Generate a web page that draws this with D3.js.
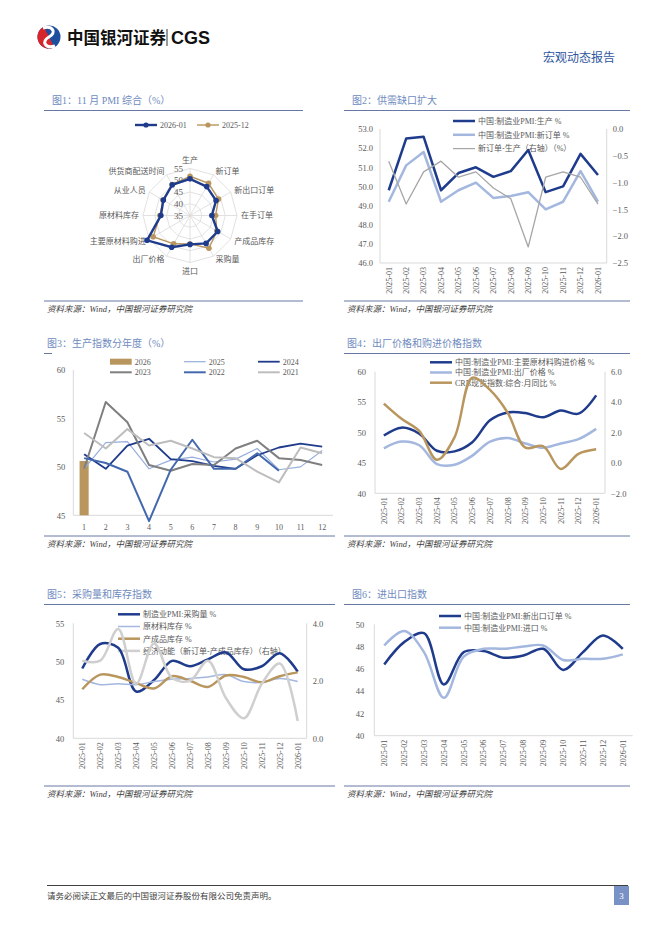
<!DOCTYPE html>
<html>
<head>
<meta charset="utf-8">
<script src="https://cdn.jsdelivr.net/npm/d3@7"></script>
<style>
  body { margin: 0; background: #fff; }
  svg { display: block; }
  text { font-family: "Liberation Serif", "Noto Sans CJK SC", serif; }
</style>
</head>
<body>
<svg id="page" width="662" height="936"></svg>
<script>
// ---- data ----
const months = ["2025-01","2025-02","2025-03","2025-04","2025-05","2025-06","2025-07","2025-08","2025-09","2025-10","2025-11","2025-12","2026-01"];

// 图1 雷达
const radarCats = ["生产","新订单","新出口订单","在手订单","产成品库存","采购量","进口","出厂价格","主要原材料购进","原材料库存","从业人员","供货商配送时间"];
const radarJan = [50.6, 49.2, 47.8, 44.3, 48.6, 48.7, 47.3, 50.6, 56.1, 47.4, 48.1, 50.1];
const radarDec = [51.7, 50.8, 49.0, 45.9, 48.2, 51.1, 47.1, 48.9, 53.1, 47.8, 48.2, 50.2];
const radarTicks = [35, 40, 45, 50, 55];

// 图2
const prodIdx   = [49.8, 52.5, 52.6, 49.8, 50.7, 51.0, 50.5, 50.8, 51.9, 49.7, 50.0, 51.7, 50.6];
const newOrdIdx = [49.2, 51.1, 51.8, 49.2, 49.8, 50.2, 49.4, 49.5, 49.7, 48.8, 49.2, 50.8, 49.2];
const gapIdx    = [-0.6, -1.4, -0.8, -0.6, -0.9, -0.8, -1.1, -1.3, -2.2, -0.9, -0.8, -0.9, -1.4];

// 图3
const monthNums = [1,2,3,4,5,6,7,8,9,10,11,12];
const prod2026 = [50.6];
const prod2025 = [49.8, 52.5, 52.6, 49.8, 50.7, 51.0, 50.5, 50.8, 51.9, 49.7, 50.0, 51.7];
const prod2024 = [51.3, 49.8, 52.2, 52.9, 50.8, 50.6, 50.1, 49.8, 51.2, 52.0, 52.4, 52.1];
const prod2023 = [49.8, 56.7, 54.6, 50.2, 49.6, 50.3, 50.2, 51.9, 52.7, 50.9, 50.7, 50.2];
const prod2022 = [50.9, 50.4, 49.5, 44.4, 49.7, 52.8, 49.8, 49.8, 51.4, 49.6, null, null];
const prod2021 = [53.5, 51.9, 53.9, 52.2, 52.7, 51.9, 51.0, 50.9, 49.5, 48.4, 52.0, 51.4];

// 图4
const buyPrice = [49.5, 50.8, 49.8, 47.0, 46.9, 48.4, 52.0, 53.3, 53.2, 52.5, 53.6, 53.1, 56.1];
const outPrice = [47.4, 48.5, 47.9, 44.8, 44.7, 46.2, 48.5, 49.1, 48.2, 47.5, 48.2, 48.9, 50.6];
const crbYoY   = [3.9, 2.9, 2.1, 0.2, 1.7, 5.6, 4.8, 3.3, 1.0, 1.1, -0.4, 0.6, 0.9];

// 图5
const purchaseQty = [49.1, 52.3, 51.8, 46.1, 47.6, 50.1, 49.4, 50.3, 51.2, 49.0, 49.4, 51.1, 48.7];
const rawInv      = [47.7, 47.0, 47.1, 47.0, 47.4, 47.7, 47.8, 48.0, 48.3, 47.4, 47.3, 47.8, 47.4];
const finInv      = [46.4, 48.3, 48.0, 47.2, 46.5, 48.1, 47.5, 46.7, 48.2, 48.0, 47.3, 48.1, 48.6];
const momentum    = [2.7, 2.7, 3.8, 1.9, 3.3, 2.1, 2.0, 2.7, 1.4, 0.7, 1.9, 2.6, 0.6];

// 图6
const newExport = [46.4, 48.4, 49.2, 44.6, 47.5, 47.6, 47.0, 47.2, 47.8, 45.9, 47.5, 49.0, 47.8];
const importIdx = [48.1, 49.4, 47.5, 43.4, 47.1, 47.8, 47.8, 48.0, 48.1, 46.8, 46.9, 46.9, 47.3];

// ---- colours ----
const NAVY = "#1f3b8c", LBLUE = "#a3b7df", TAN = "#b8965e", GRAY = "#a6a6a6",
      LGRAY = "#cfcfcf", MBLUE = "#4368ae", DGRAY = "#7f7f7f";
const TXT = "#595959", RULE = "#6678a3", GRID = "#d9d9d9";

const svg = d3.select("#page");

// ---- header / footer ----
const logo = svg.append("g").attr("transform", "translate(49,37)");
logo.append("circle").attr("r", 11.5).attr("fill", "#1d4f9e");
logo.append("path")
  .attr("d", d3.arc().innerRadius(0).outerRadius(11.5).startAngle(Math.PI * 0.85).endAngle(Math.PI * 1.85)())
  .attr("fill", "#d7262b");
logo.append("path")
  .attr("d", "M-6,-9 C4,-12 8,-4 0,0 C-8,4 -4,12 6,9")
  .attr("fill", "none").attr("stroke", "#fff").attr("stroke-width", 3);
svg.append("text").attr("x", 67).attr("y", 43.5)
  .style("font-family", "'Noto Sans CJK SC'").style("font-weight", 700)
  .attr("font-size", 16.5).attr("fill", "#111").text("中国银河证券");
svg.append("line").attr("x1", 167).attr("x2", 167).attr("y1", 29).attr("y2", 46)
  .attr("stroke", "#333").attr("stroke-width", 1);
svg.append("text").attr("x", 171).attr("y", 43.5)
  .style("font-family", "'Liberation Sans'").style("font-weight", 700)
  .attr("font-size", 18).attr("fill", "#111").text("CGS");
svg.append("text").attr("x", 615).attr("y", 62).attr("text-anchor", "end")
  .attr("font-size", 12).attr("fill", "#2f56a0").text("宏观动态报告");

svg.append("line").attr("x1", 47).attr("x2", 628).attr("y1", 885.5).attr("y2", 885.5)
  .attr("stroke", "#404040").attr("stroke-width", 1);
svg.append("text").attr("x", 47).attr("y", 899).attr("font-size", 8.5).attr("fill", "#404040")
  .text("请务必阅读正文最后的中国银河证券股份有限公司免责声明。");
svg.append("rect").attr("x", 614).attr("y", 886).attr("width", 15).attr("height", 19).attr("fill", "#7892c6");
svg.append("text").attr("x", 621.5).attr("y", 899).attr("text-anchor", "middle")
  .attr("font-size", 9).attr("fill", "#fff").text("3");

// ---- panel frame: title, rules, source ----
function frame(p) {
  svg.append("text").attr("x", p.tx).attr("y", p.ty).attr("font-size", 10)
    .attr("fill", "#6f8bc0").text(p.title);
  svg.append("line").attr("x1", p.x0).attr("x2", p.lineEnd || p.x1)
    .attr("y1", p.ty + 6.5).attr("y2", p.ty + 6.5).attr("stroke", RULE).attr("stroke-width", 1);
  svg.append("line").attr("x1", p.x0).attr("x2", p.x1)
    .attr("y1", p.by).attr("y2", p.by).attr("stroke", RULE).attr("stroke-width", 1);
  svg.append("text").attr("x", p.x0 + 3).attr("y", p.by + 11).attr("font-size", 8.5)
    .attr("fill", "#404040").style("font-style", "italic").text("资料来源：Wind，中国银河证券研究院");
}

frame({ title: "图1：11 月 PMI 综合（%）", tx: 52, ty: 104, x0: 44, x1: 303, by: 301 });
frame({ title: "图2：供需缺口扩大", tx: 352, ty: 104, x0: 344, x1: 630, by: 301 });
frame({ title: "图3：生产指数分年度（%）", tx: 47, ty: 347, x0: 44, x1: 335, lineEnd: 52, by: 536 });
frame({ title: "图4：出厂价格和购进价格指数", tx: 347, ty: 347, x0: 344, x1: 630, by: 536 });
frame({ title: "图5：采购量和库存指数", tx: 47, ty: 598, x0: 44, x1: 335, by: 786 });
frame({ title: "图6：进出口指数", tx: 352, ty: 598, x0: 344, x1: 630, by: 786 });

// ---- legend helper ----
function legend(items, x, y0, dy, len) {
  items.forEach((it, i) => {
    const y = y0 + i * dy;
    if (it.bar) {
      svg.append("rect").attr("x", x).attr("y", y - 3).attr("width", len).attr("height", 6).attr("fill", it.color);
    } else {
      svg.append("line").attr("x1", x).attr("x2", x + len).attr("y1", y).attr("y2", y)
        .attr("stroke", it.color).attr("stroke-width", it.width);
    }
    svg.append("text").attr("x", x + len + 3).attr("y", y).attr("dy", "0.35em")
      .attr("font-size", 8).attr("fill", TXT).text(it.name);
  });
}

// ---- generic line chart with optional right axis ----
function lineChart(o) {
  const x = d3.scaleBand().domain(o.cats).range([o.left, o.right]);
  const cx = c => x(c) + x.bandwidth() / 2;
  const yL = d3.scaleLinear().domain(o.yL).range([o.bottom, o.top]);
  const yR = o.yR ? d3.scaleLinear().domain(o.yR).range([o.bottom, o.top]) : null;

  // axis lines
  const ax = svg.append("g").attr("stroke", GRID).attr("stroke-width", 1);
  ax.append("line").attr("x1", o.left).attr("x2", o.left).attr("y1", o.top).attr("y2", o.bottom);
  ax.append("line").attr("x1", o.left).attr("x2", o.right).attr("y1", o.bottom).attr("y2", o.bottom);
  if (yR) ax.append("line").attr("x1", o.right).attr("x2", o.right).attr("y1", o.top).attr("y2", o.bottom);

  const gl = svg.append("g").attr("transform", `translate(${o.left},0)`)
    .call(d3.axisLeft(yL).tickValues(o.ticksL).tickSize(0).tickPadding(o.padL).tickFormat(o.fmtL));
  gl.select(".domain").remove();
  gl.selectAll("text").attr("font-size", 8.5).attr("fill", TXT)
    .style("font-family", "'Liberation Serif', serif");

  if (yR) {
    const gr = svg.append("g").attr("transform", `translate(${o.right},0)`)
      .call(d3.axisRight(yR).tickValues(o.ticksR).tickSize(0).tickPadding(o.padR).tickFormat(d3.format(".1f")));
    gr.select(".domain").remove();
    gr.selectAll("text").attr("font-size", 8.5).attr("fill", TXT)
      .style("font-family", "'Liberation Serif', serif");
  }

  const gb = svg.append("g").attr("transform", `translate(0,${o.bottom})`)
    .call(d3.axisBottom(x).tickSize(0));
  gb.select(".domain").remove();
  gb.selectAll("text").attr("font-size", 8).attr("fill", TXT)
    .style("font-family", "'Liberation Serif', serif");
  if (o.rotate) {
    gb.selectAll("text").attr("transform", "rotate(-90)").attr("text-anchor", "end")
      .attr("x", -4).attr("y", 0).attr("dy", "0.35em");
  } else {
    gb.selectAll("text").attr("y", 9);
  }

  if (o.legend) legend(o.legend.items, o.legend.x, o.legend.y, o.legend.dy, o.legend.len);

  if (o.bars) {
    o.bars.forEach(b => {
      const bw = x.bandwidth() * 0.42;
      b.values.forEach((v, i) => {
        svg.append("rect").attr("x", cx(o.cats[i]) - bw / 2).attr("y", yL(v))
          .attr("width", bw).attr("height", yL(o.yL[0]) - yL(v)).attr("fill", b.color);
      });
    });
  }

  o.series.forEach(s => {
    const y = s.right ? yR : yL;
    const line = d3.line()
      .defined(d => d[1] != null)
      .x(d => cx(d[0])).y(d => y(d[1]))
      .curve(o.smooth ? d3.curveCatmullRom.alpha(0.5) : d3.curveLinear);
    svg.append("path").datum(o.cats.map((c, i) => [c, s.values[i] === undefined ? null : s.values[i]]))
      .attr("d", line).attr("fill", "none").attr("stroke", s.color)
      .attr("stroke-width", s.width).attr("stroke-linejoin", "round");
  });
}

// ---- 图1 radar ----
(function radar() {
  const cx = 190, cy = 215.5, R = 47;
  const r = d3.scaleLinear().domain([35, 55]).range([0, R]);
  const ang = i => i * 2 * Math.PI / radarCats.length;
  const pt = (i, v) => [cx + r(v) * Math.sin(ang(i)), cy - r(v) * Math.cos(ang(i))];

  const g = svg.append("g");
  radarTicks.slice(1).forEach(t => {
    g.append("path").attr("d", d3.line()(radarCats.map((c, i) => pt(i, t))) + "Z")
      .attr("fill", "none").attr("stroke", GRID).attr("stroke-width", 0.8);
  });
  radarCats.forEach((c, i) => {
    const p = pt(i, 55);
    g.append("line").attr("x1", cx).attr("y1", cy).attr("x2", p[0]).attr("y2", p[1])
      .attr("stroke", GRID).attr("stroke-width", 0.8);
  });

  // category labels
  radarCats.forEach((c, i) => {
    const a = ang(i), s = Math.sin(a), co = Math.cos(a);
    const lx = cx + 51 * s, ly = cy - 51 * co;
    const anchor = s > 0.1 ? "start" : s < -0.1 ? "end" : "middle";
    const dy = Math.abs(s) < 0.1 ? (co > 0 ? "-0.2em" : "0.9em") : "0.35em";
    g.append("text").attr("x", lx).attr("y", ly).attr("dy", dy).attr("text-anchor", anchor)
      .attr("font-size", 8).attr("fill", TXT).text(c);
  });

  // value labels on top spoke
  radarTicks.forEach(t => {
    g.append("text").attr("x", cx - 7).attr("y", cy - r(t)).attr("dy", "0.35em")
      .attr("text-anchor", "end").attr("font-size", 9).attr("fill", TXT)
      .style("font-family", "'Liberation Serif', serif").text(t);
  });

  const series = [
    { name: "2025-12", values: radarDec, color: TAN, width: 1.4 },
    { name: "2026-01", values: radarJan, color: NAVY, width: 2.4 }
  ];
  series.forEach(s => {
    const pts = s.values.map((v, i) => pt(i, v));
    g.append("path").attr("d", d3.line()(pts) + "Z").attr("fill", "none")
      .attr("stroke", s.color).attr("stroke-width", s.width);
    g.selectAll(null).data(pts).enter().append("circle")
      .attr("cx", d => d[0]).attr("cy", d => d[1]).attr("r", 2.8).attr("fill", s.color);
  });

  // legend
  const lg = [{ name: "2026-01", color: NAVY, width: 2.4, x: 135 }, { name: "2025-12", color: TAN, width: 1.4, x: 197 }];
  lg.forEach(l => {
    svg.append("line").attr("x1", l.x).attr("x2", l.x + 22).attr("y1", 125).attr("y2", 125)
      .attr("stroke", l.color).attr("stroke-width", l.width);
    svg.append("circle").attr("cx", l.x + 11).attr("cy", 125).attr("r", 2.6).attr("fill", l.color);
    svg.append("text").attr("x", l.x + 25).attr("y", 125).attr("dy", "0.35em")
      .attr("font-size", 8).attr("fill", TXT).style("font-family", "'Liberation Serif', serif").text(l.name);
  });
})();

// ---- 图2 ----
lineChart({
  cats: months, left: 380, right: 606.7, top: 129, bottom: 263, rotate: true,
  yL: [46, 53], ticksL: d3.range(46, 53.01, 1), padL: 7, fmtL: d3.format(".1f"),
  yR: [-2.5, 0], ticksR: [-2.5, -2, -1.5, -1, -0.5, 0], padR: 6,
  legend: { x: 453, y: 121, dy: 13.8, len: 22, items: [
    { name: "中国:制造业PMI:生产 %", color: NAVY, width: 2.5 },
    { name: "中国:制造业PMI:新订单 %", color: LBLUE, width: 2.5 },
    { name: "新订单-生产（右轴）（%）", color: GRAY, width: 1.2 }
  ]},
  series: [
    { values: prodIdx, color: NAVY, width: 2.5 },
    { values: newOrdIdx, color: LBLUE, width: 2.5 },
    { values: gapIdx, color: GRAY, width: 1.3, right: true }
  ]
});

// ---- 图3 ----
lineChart({
  cats: monthNums, left: 73.3, right: 333, top: 370, bottom: 515.3, rotate: false,
  yL: [45, 60], ticksL: [45, 50, 55, 60], padL: 8, fmtL: d3.format("d"),
  bars: [{ values: prod2026, color: TAN }],
  series: [
    { values: prod2025, color: "#97aedc", width: 1.2 },
    { values: prod2024, color: NAVY, width: 1.8 },
    { values: prod2023, color: DGRAY, width: 2 },
    { values: prod2022, color: MBLUE, width: 2 },
    { values: prod2021, color: "#bdbdbd", width: 2 }
  ]
});
legend([{ name: "2026", color: TAN, bar: true }], 110, 361.7, 0, 21.7);
legend([{ name: "2025", color: "#97aedc", width: 1.2 }], 184, 361.7, 0, 21.7);
legend([{ name: "2024", color: NAVY, width: 1.8 }], 258, 361.7, 0, 21.7);
legend([{ name: "2023", color: DGRAY, width: 2 }], 110, 372.3, 0, 21.7);
legend([{ name: "2022", color: MBLUE, width: 2 }], 184, 372.3, 0, 21.7);
legend([{ name: "2021", color: "#bdbdbd", width: 2 }], 258, 372.3, 0, 21.7);

// ---- 图4 ----
lineChart({
  cats: months, left: 375, right: 605, top: 371.7, bottom: 493.3, rotate: true, smooth: true,
  yL: [40, 60], ticksL: [40, 45, 50, 55, 60], padL: 9, fmtL: d3.format("d"),
  yR: [-2, 6], ticksR: [-2, 0, 2, 4, 6], padR: 6,
  legend: { x: 430, y: 362.3, dy: 10.2, len: 22, items: [
    { name: "中国:制造业PMI:主要原材料购进价格 %", color: NAVY, width: 2.5 },
    { name: "中国:制造业PMI:出厂价格 %", color: LBLUE, width: 2.5 },
    { name: "CRB现货指数:综合:月同比 %", color: TAN, width: 2.5 }
  ]},
  series: [
    { values: buyPrice, color: NAVY, width: 2.5 },
    { values: outPrice, color: LBLUE, width: 2.5 },
    { values: crbYoY, color: TAN, width: 2.5, right: true }
  ]
});

// ---- 图5 ----
lineChart({
  cats: months, left: 73.3, right: 306.7, top: 623.3, bottom: 738.3, rotate: true, smooth: true,
  yL: [40, 55], ticksL: [40, 45, 50, 55], padL: 9, fmtL: d3.format("d"),
  yR: [0, 4], ticksR: [0, 2, 4], padR: 6,
  legend: { x: 118, y: 614.3, dy: 12.2, len: 22, items: [
    { name: "制造业PMI:采购量 %", color: NAVY, width: 2.5 },
    { name: "原材料库存 %", color: LBLUE, width: 1.5 },
    { name: "产成品库存 %", color: TAN, width: 2.5 },
    { name: "经济动能（新订单-产成品库存）（右轴）", color: LGRAY, width: 2.5 }
  ]},
  series: [
    { values: purchaseQty, color: NAVY, width: 2.5 },
    { values: rawInv, color: LBLUE, width: 1.5 },
    { values: finInv, color: TAN, width: 2.5 },
    { values: momentum, color: LGRAY, width: 2.5, right: true }
  ]
});

// ---- 图6 ----
lineChart({
  cats: months, left: 374.3, right: 632.7, top: 624.3, bottom: 735.7, rotate: true, smooth: true,
  yL: [40, 50], ticksL: [40, 42, 44, 46, 48, 50], padL: 10, fmtL: d3.format("d"),
  legend: { x: 439, y: 616, dy: 11.7, len: 22, items: [
    { name: "中国:制造业PMI:新出口订单 %", color: NAVY, width: 2.5 },
    { name: "中国:制造业PMI:进口 %", color: LBLUE, width: 2.5 }
  ]},
  series: [
    { values: newExport, color: NAVY, width: 2.5 },
    { values: importIdx, color: LBLUE, width: 2.5 }
  ]
});
</script>
</body>
</html>
